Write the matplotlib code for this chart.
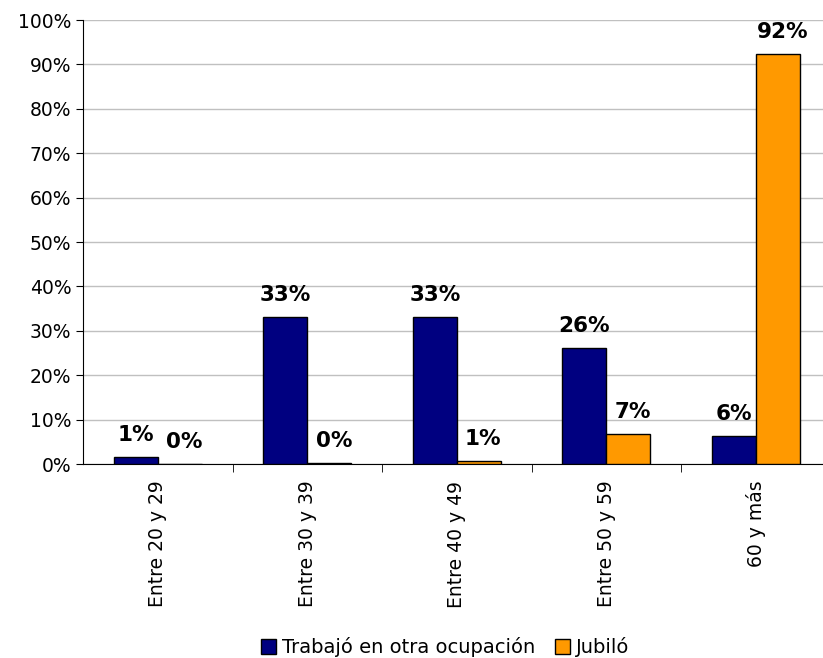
"""Bar chart: trabajo en otra ocupación vs jubiló, por grupo de edad."""

import numpy as np
import matplotlib
matplotlib.use("Agg")
import matplotlib.pyplot as plt
from matplotlib.ticker import PercentFormatter

categories = ["Entre 20 y 29", "Entre 30 y 39", "Entre 40 y 49", "Entre 50 y 59", "60 y más"]
trabajo = [1.5, 33.0, 33.0, 26.2, 6.2]
jubilo = [0.0, 0.2, 0.7, 6.7, 92.3]
trabajo_labels = ["1%", "33%", "33%", "26%", "6%"]
jubilo_labels = ["0%", "0%", "1%", "7%", "92%"]

NAVY = "#000080"
ORANGE = "#FF9900"

fig = plt.figure(figsize=(8.23, 6.58), dpi=100)
ax = fig.add_axes([83 / 823, 194 / 658, 747.5 / 823, 444 / 658])

x = np.arange(len(categories))
w = 0.294
b1 = ax.bar(x - w / 2, trabajo, w, color=NAVY, edgecolor="black", linewidth=1, zorder=3,
            label="Trabajó en otra ocupación")
b2 = ax.bar(x + w / 2, jubilo, w, color=ORANGE, edgecolor="black", linewidth=1, zorder=3,
            label="Jubiló")

for xi, v, lab in zip(x, trabajo, trabajo_labels):
    ax.text(xi - w / 2, v + 2.7, lab, ha="center", va="bottom", fontsize=15.5, fontweight="bold")
for xi, v, lab in zip(x, jubilo, jubilo_labels):
    ax.text(xi + w / 2 + 0.03, v + 2.7, lab, ha="center", va="bottom", fontsize=15.5, fontweight="bold")

ax.set_xlim(-0.5, len(categories) - 0.5)
ax.set_ylim(0, 100)
ax.set_yticks(np.arange(0, 101, 10))
ax.yaxis.set_major_formatter(PercentFormatter(decimals=0))
ax.yaxis.grid(True, color="#c0c0c0", linewidth=1, zorder=0)

ax.set_xticks(x)
ax.set_xticklabels(categories, rotation=90, fontsize=13.5)
ax.set_xticks(np.arange(0.5, len(categories) - 0.5, 1), minor=True)
ax.tick_params(axis="x", which="major", length=0, pad=12)
ax.tick_params(axis="x", which="minor", length=6, color="black")
ax.tick_params(axis="y", labelsize=13.5, length=5)

for side in ("top", "right"):
    ax.spines[side].set_visible(False)

fig.legend(handles=[b1, b2], loc="center", bbox_to_anchor=(445 / 823, 1 - 647 / 658),
           ncol=2, frameon=False, fontsize=14, handlelength=0.8, handleheight=0.8,
           handletextpad=0.3, columnspacing=1.0)

fig.savefig("out.png", dpi=100)
